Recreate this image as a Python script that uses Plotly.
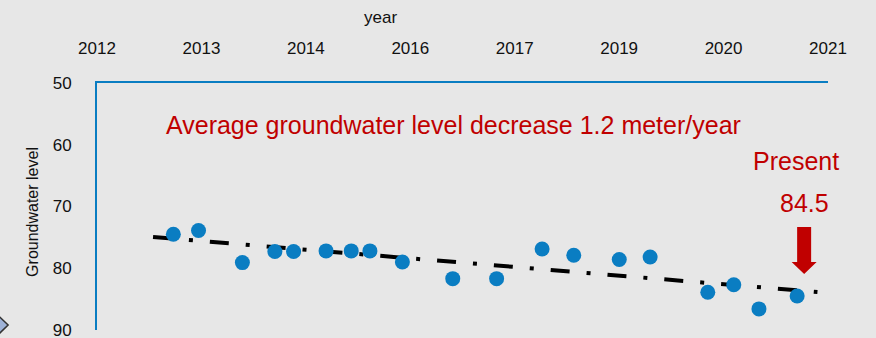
import numpy as np
import plotly.graph_objects as go

# Observation dates (decimal year) and groundwater level (m below surface)
years = [2012.94, 2013.25, 2013.79, 2014.19, 2014.42, 2014.82, 2015.13, 2015.36,
         2015.76, 2016.38, 2016.92, 2017.48, 2017.87, 2018.43, 2018.81, 2019.52,
         2019.84, 2020.15, 2020.62]
level = [74.5, 73.9, 79.1, 77.3, 77.3, 77.2, 77.2, 77.2,
         79.0, 81.7, 81.7, 76.9, 77.9, 78.6, 78.2, 83.9,
         82.7, 86.6, 84.5]

tick_labels = ["2012", "2013", "2014", "2016", "2017", "2019", "2020", "2021"]
x_min, x_max = 2012, 2021
tick_vals = [x_min + i * (x_max - x_min) / (len(tick_labels) - 1) for i in range(len(tick_labels))]
y_ticks = [50, 60, 70, 80, 90]

BG = "#e7e7e7"
BLUE = "#0a7dc2"
RED = "#c00000"
FONT = "Liberation Sans, Arial, sans-serif"

# Linear trend, extended a quarter year beyond both ends of the record
slope, intercept = np.polyfit(years, level, 1)
trend_x = [years[0] - 0.25, years[-1] + 0.25]
trend_y = [slope * v + intercept for v in trend_x]

fig = go.Figure()
fig.add_trace(go.Scatter(
    x=trend_x, y=trend_y, mode="lines",
    line=dict(color="black", width=4, dash="19px,17px,4px,17px"),
    hoverinfo="skip", showlegend=False))
fig.add_trace(go.Scatter(
    x=years, y=level, mode="markers",
    marker=dict(color=BLUE, size=15, line=dict(width=0)),
    showlegend=False))

last_x, last_y = years[-1], level[-1]

# Red arrow pointing down at the latest reading
fig.add_shape(
    type="path", xref="x", yref="y",
    xsizemode="pixel", ysizemode="pixel",
    xanchor=last_x, yanchor=last_y,
    path="M 0,69 L 14,69 L 14,34 L 19.5,34 L 7,22 L -5.5,34 L 0,34 Z",
    fillcolor=RED, line=dict(width=0), layer="above")

# Small diamond marker at the lower-left edge
fig.add_shape(
    type="path", xref="paper", yref="paper",
    path="M -0.144,0.02 L -0.1328,0.052 L -0.1216,0.02 L -0.1328,-0.012 Z",
    fillcolor="#9fb3d8", line=dict(color="#333333", width=1.5), layer="above")

fig.add_annotation(
    xref="paper", yref="paper", x=0.4877, y=0.83,
    xanchor="center", yanchor="middle",
    text="Average groundwater level decrease 1.2 meter/year",
    showarrow=False, font=dict(family=FONT, size=25, color=RED))
fig.add_annotation(
    x=last_x, y=last_y, text="Present", showarrow=False,
    xanchor="center", yanchor="middle",
    xshift=-1, yshift=135, font=dict(family=FONT, size=25, color=RED))
fig.add_annotation(
    x=last_x, y=last_y, text=f"{last_y}", showarrow=False,
    xanchor="center", yanchor="middle",
    xshift=7, yshift=93, font=dict(family=FONT, size=25, color=RED))

fig.add_annotation(
    xref="paper", yref="paper", x=0.3885, y=1.265, text="year",
    xanchor="center", yanchor="middle",
    showarrow=False, font=dict(family=FONT, size=17, color="#111111"))
fig.add_annotation(
    xref="paper", yref="paper", x=-0.0876, y=0.478, text="Groundwater level",
    xanchor="center", yanchor="middle",
    textangle=-90, showarrow=False, font=dict(family=FONT, size=16, color="#111111"))

fig.update_xaxes(
    side="top", range=[x_min, x_max], tickmode="array",
    tickvals=tick_vals, ticktext=tick_labels, automargin=False,
    showgrid=False, zeroline=False, showline=True, linecolor=BLUE, linewidth=2,
    ticks="", ticklabelstandoff=20, ticklabeloverflow="allow",
    tickfont=dict(family=FONT, size=17, color="#111111"))
fig.update_yaxes(
    range=[90.02, 50], tickmode="array", tickvals=y_ticks, automargin=False,
    showgrid=False, zeroline=False, showline=True, linecolor=BLUE, linewidth=2,
    ticks="", ticklabelstandoff=20, ticklabeloverflow="allow",
    tickfont=dict(family=FONT, size=17, color="#111111"))

fig.update_layout(
    width=876, height=338,
    margin=dict(l=97, r=48, t=83, b=8),
    paper_bgcolor=BG, plot_bgcolor=BG,
    showlegend=False)

fig.write_html("out.html")
